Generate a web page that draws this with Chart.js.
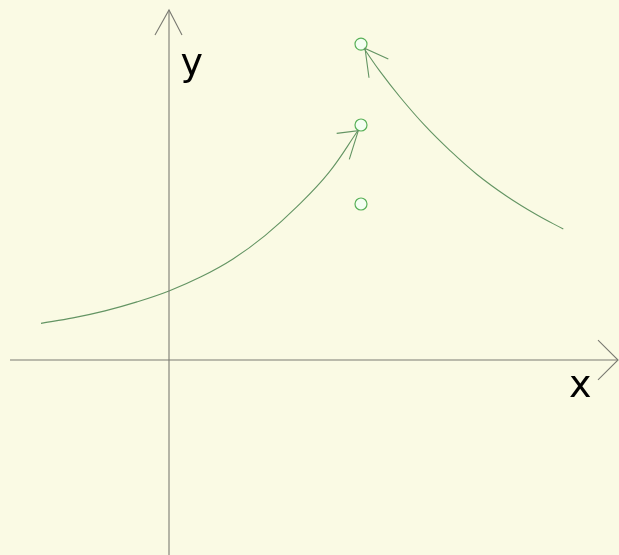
<!DOCTYPE html>
<html>
<head>
<meta charset="utf-8">
<script src="https://cdn.jsdelivr.net/npm/chart.js@4/dist/chart.umd.min.js"></script>
<style>
html,body{margin:0;padding:0;background:#FAFAE4;}
canvas{display:block;}
</style>
</head>
<body>
<canvas id="c" width="619" height="555"></canvas>
<script>
// Left curve (increasing, ends with arrow at middle circle)
const curve1X = [-2.0, -1.5, -1.0, -0.5, 0.0, 0.5, 1.0, 1.5, 2.0, 2.5, 2.953];
const curve1Y = [0.47, 0.54, 0.63, 0.745, 0.885, 1.066, 1.295, 1.595, 1.965, 2.405, 2.942];
// Right curve (decreasing, starts with arrow at top circle)
const curve2X = [3.047, 3.297, 3.609, 4.0, 4.391, 4.808, 5.277, 5.745, 6.161];
const curve2Y = [3.994, 3.70, 3.372, 3.004, 2.685, 2.382, 2.10, 1.862, 1.679];
// Open circles
const circleX = [3, 3, 3];
const circleY = [4.05, 3.013, 2.0];
// Arrowheads: [arm, tip, arm]
const arrow1X = [2.620, 2.958, 2.817];
const arrow1Y = [2.906, 2.940, 2.573];
const arrow2X = [3.427, 3.063, 3.125];
const arrow2Y = [3.859, 3.994, 3.619];
// Axes
const xAxisX = [-2.484, 7.016];
const xAxisY = [0, 0];
const yAxisX = [0, 0];
const yAxisY = [-2.6, 4.487];
const xArrowX = [6.703, 7.016, 6.703];
const xArrowY = [0.256, 0, -0.256];
const yArrowX = [-0.219, 0, 0.203];
const yArrowY = [4.167, 4.487, 4.167];
// Axis labels
const axisLabels = ['y', 'x'];

function pts(xs, ys){ return xs.map((x,i)=>({x:x, y:ys[i]})); }

const axisColor = '#7a7a72';
const curveColor = '#639463';

function lineDs(xs, ys, color, extra){
  return Object.assign({
    data: pts(xs, ys), showLine: true, borderColor: color, borderWidth: 1.1,
    pointRadius: 0, pointHoverRadius: 0, fill: false, clip: false
  }, extra || {});
}

const labelPlugin = {
  id: 'axisLabels',
  afterDatasetsDraw(chart){
    const ctx = chart.ctx, sx = chart.scales.x, sy = chart.scales.y;
    ctx.save();
    ctx.fillStyle = '#000';
    ctx.font = '38px "DejaVu Sans", Verdana, sans-serif';
    ctx.textAlign = 'left';
    ctx.textBaseline = 'alphabetic';
    ctx.fillText(axisLabels[0], sx.getPixelForValue(0.18), sy.getPixelForValue(3.66));
    ctx.fillText(axisLabels[1], sx.getPixelForValue(6.25), sy.getPixelForValue(-0.475));
    ctx.restore();
  }
};

new Chart(document.getElementById('c'), {
  type: 'scatter',
  data: {
    datasets: [
      lineDs(xAxisX, xAxisY, axisColor),
      lineDs(yAxisX, yAxisY, axisColor),
      lineDs(xArrowX, xArrowY, axisColor),
      lineDs(yArrowX, yArrowY, axisColor),
      lineDs(curve1X, curve1Y, curveColor, {tension: 0.4}),
      lineDs(curve2X, curve2Y, curveColor, {tension: 0.4}),
      lineDs(arrow1X, arrow1Y, curveColor),
      lineDs(arrow2X, arrow2Y, curveColor),
      {
        data: pts(circleX, circleY), showLine: false,
        pointRadius: 6, pointHoverRadius: 6, pointStyle: 'circle',
        backgroundColor: '#f4fff2', borderColor: '#58b058', borderWidth: 1.2, clip: false
      }
    ]
  },
  options: {
    responsive: false,
    animation: false,
    events: [],
    layout: { padding: 0, autoPadding: false },
    plugins: { legend: { display: false }, tooltip: { enabled: false } },
    scales: {
      x: { type: 'linear', display: false, min: -2.640625, max: 7.03125 },
      y: { type: 'linear', display: false, min: -2.5, max: 4.6154 }
    }
  },
  plugins: [labelPlugin]
});
</script>
</body>
</html>
